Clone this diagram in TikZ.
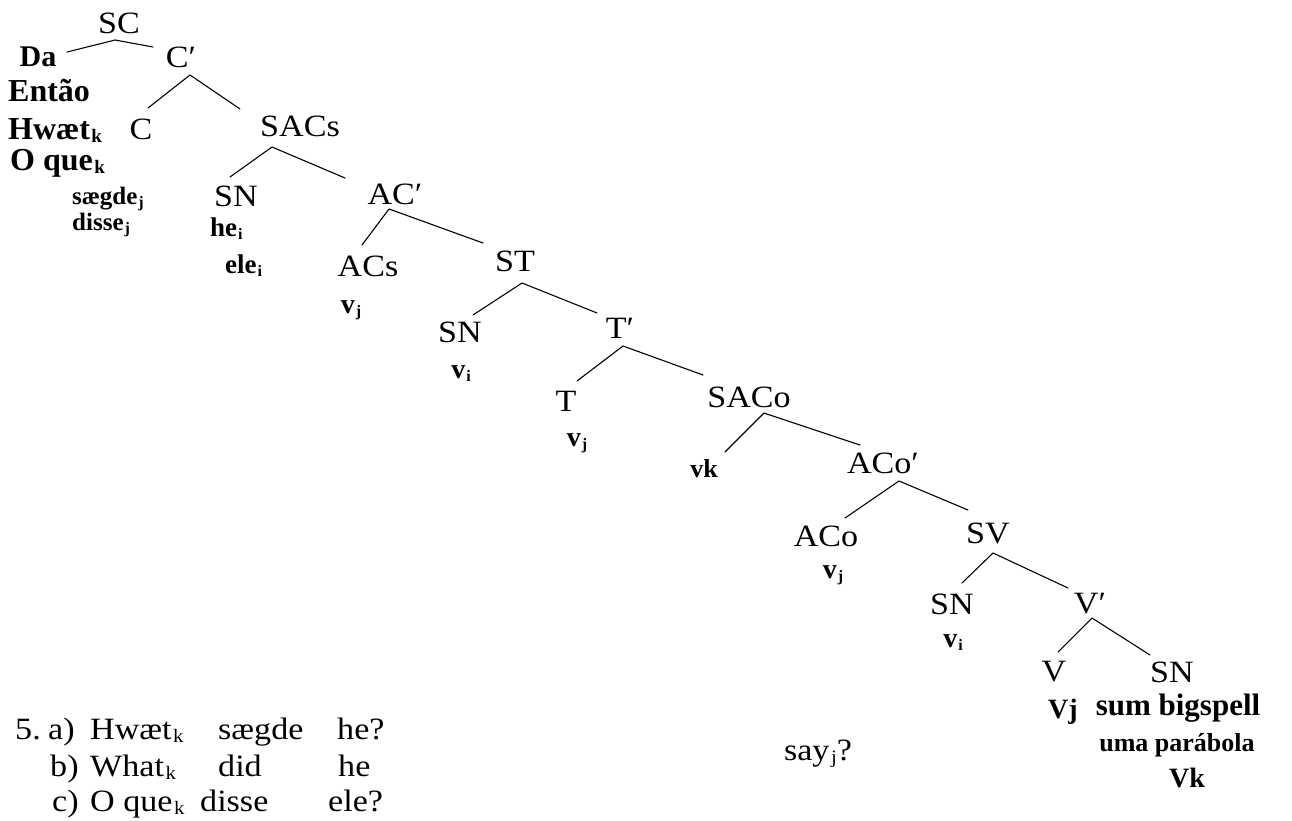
\documentclass[tikz,border=0pt]{standalone}
\usepackage{fontspec}
\setmainfont{Liberation Serif}[FakeStretch=1.1]
\newfontfamily\bdf{Liberation Serif}
\newcommand\lsb[1]{\kern1.5pt\raisebox{-0.12em}{\fontsize{19}{19}\selectfont #1}}
\newcommand\ssb[1]{\kern1pt\raisebox{-0.12em}{\fontsize{16}{16}\selectfont #1}}
\newcommand\rgsz{\fontsize{31}{36}\selectfont}
\newcommand\bdsz[1]{\fontsize{#1}{#1}\selectfont\bdf\bfseries}
\tikzset{
 lab/.style={anchor=base, inner sep=0pt, font=\rgsz},
 labw/.style={anchor=base west, inner sep=0pt, font=\rgsz},
 bl/.style={anchor=base, inner sep=0pt, font=\bdsz{#1}},
 blw/.style={anchor=base west, inner sep=0pt, font=\bdsz{#1}},
 edge/.style={line width=1.1pt, line join=round, line cap=round}
}
\begin{document}
\begin{tikzpicture}[x=1pt,y=-1pt]
\useasboundingbox[fill=white] (0,0) rectangle (1292,820);
% ---- tree labels
\node[lab] (SC) at (119,33) {SC};
\node[bl=30] (Da) at (38,66) {Da};
\node[lab] (C1) at (181,67) {C′};
\node[blw=32] (entao) at (8,101) {Então};
\node[blw=32] (hwaet) at (8,139) {Hwæt\lsb{k}};
\node[lab] (C) at (141,139) {C};
\node[blw=32] (oque) at (10,170) {O que\lsb{k}};
\node[blw=25] (saegde) at (72,204) {sægde\ssb{j}};
\node[blw=25] (disse) at (72,230) {disse\ssb{j}};
\node[lab] (SACs) at (300,136) {SACs};
\node[lab] (SN1) at (236,206) {SN};
\node[blw=27] (he) at (210,236) {he\ssb{i}};
\node[blw=27] (ele) at (225,273) {ele\ssb{i}};
\node[lab] (AC1) at (395,204) {AC′};
\node[lab] (ACs) at (368,276) {ACs};
\node[bl=28] (vj1) at (351,313) {v\ssb{j}};
\node[lab] (ST) at (515,271) {ST};
\node[lab] (SN2) at (460,342) {SN};
\node[bl=28] (vi1) at (461,378) {v\ssb{i}};
\node[lab] (T1) at (620,338) {T′};
\node[lab] (T) at (566,411) {T};
\node[bl=28] (vj2) at (577,446) {v\ssb{j}};
\node[lab] (SACo) at (749,407) {SACo};
\node[bl=26] (vk) at (704,477) {vk};
\node[lab] (ACo1) at (883,473) {ACo′};
\node[lab] (ACo) at (826,546) {ACo};
\node[bl=28] (vj3) at (833,578) {v\ssb{j}};
\node[lab] (SV) at (988,543) {SV};
\node[lab] (SN3) at (952,614) {SN};
\node[bl=28] (vi2) at (953,647) {v\ssb{i}};
\node[lab] (V1) at (1090,613) {V′};
\node[lab] (V) at (1054,681) {V};
\node[lab] (SN4) at (1172,682) {SN};
\node[bl=28] (Vj) at (1063,718) {Vj};
\node[bl=31] (sum) at (1178,715) {sum bigspell};
\node[bl=26] (uma) at (1177,751) {uma parábola};
\node[bl=28] (Vk) at (1187,787) {Vk};
\node[lab] (say) at (818,760) {say\lsb{j}?};
% ---- connector points
\coordinate (SC-a) at (115,40);   \coordinate (Da-t) at (67,52);   \coordinate (C1-t) at (153,47);
\coordinate (C1-a) at (190,75);   \coordinate (C-t) at (148,108);  \coordinate (SACs-t) at (240,109);
\coordinate (SACs-a) at (272,147); \coordinate (SN1-t) at (230,177); \coordinate (AC1-t) at (345,178);
\coordinate (AC1-a) at (389,209); \coordinate (ACs-t) at (362,245); \coordinate (ST-t) at (483,243);
\coordinate (ST-a) at (522,283);  \coordinate (SN2-t) at (473,315); \coordinate (T1-t) at (597,313);
\coordinate (T1-a) at (623,346);  \coordinate (T-t) at (577,381);   \coordinate (SACo-t) at (703,375);
\coordinate (SACo-a) at (764,413); \coordinate (vk-t) at (725,452); \coordinate (ACo1-t) at (860,445);
\coordinate (ACo1-a) at (899,481); \coordinate (ACo-t) at (845,518); \coordinate (SV-t) at (968,510);
\coordinate (SV-a) at (993,553);  \coordinate (SN3-t) at (962,583); \coordinate (V1-t) at (1068,588);
\coordinate (V1-a) at (1092,618); \coordinate (V-t) at (1058,652);  \coordinate (SN4-t) at (1150,655);
\draw[edge] (Da-t) -- (SC-a) -- (C1-t);
\draw[edge] (C-t) -- (C1-a) -- (SACs-t);
\draw[edge] (SN1-t) -- (SACs-a) -- (AC1-t);
\draw[edge] (ACs-t) -- (AC1-a) -- (ST-t);
\draw[edge] (SN2-t) -- (ST-a) -- (T1-t);
\draw[edge] (T-t) -- (T1-a) -- (SACo-t);
\draw[edge] (vk-t) -- (SACo-a) -- (ACo1-t);
\draw[edge] (ACo-t) -- (ACo1-a) -- (SV-t);
\draw[edge] (SN3-t) -- (SV-a) -- (V1-t);
\draw[edge] (V-t) -- (V1-a) -- (SN4-t);
% ---- examples
\node[labw] (n5) at (15,739) {5.};
\node[labw] (ea) at (48,739) {a)};
\node[labw] (a1) at (90,739) {Hwæt\lsb{k}};
\node[labw] (a2) at (218,739) {sægde};
\node[labw] (a3) at (337,739) {he?};
\node[labw] (eb) at (50,776) {b)};
\node[labw] (b1) at (90,776) {What\lsb{k}};
\node[labw] (b2) at (218,776) {did};
\node[labw] (b3) at (338,776) {he};
\node[labw] (ec) at (52,811) {c)};
\node[labw] (c1) at (90,811) {O que\lsb{k}};
\node[labw] (c2) at (200,811) {disse};
\node[labw] (c3) at (328,811) {ele?};
\end{tikzpicture}
\end{document}
